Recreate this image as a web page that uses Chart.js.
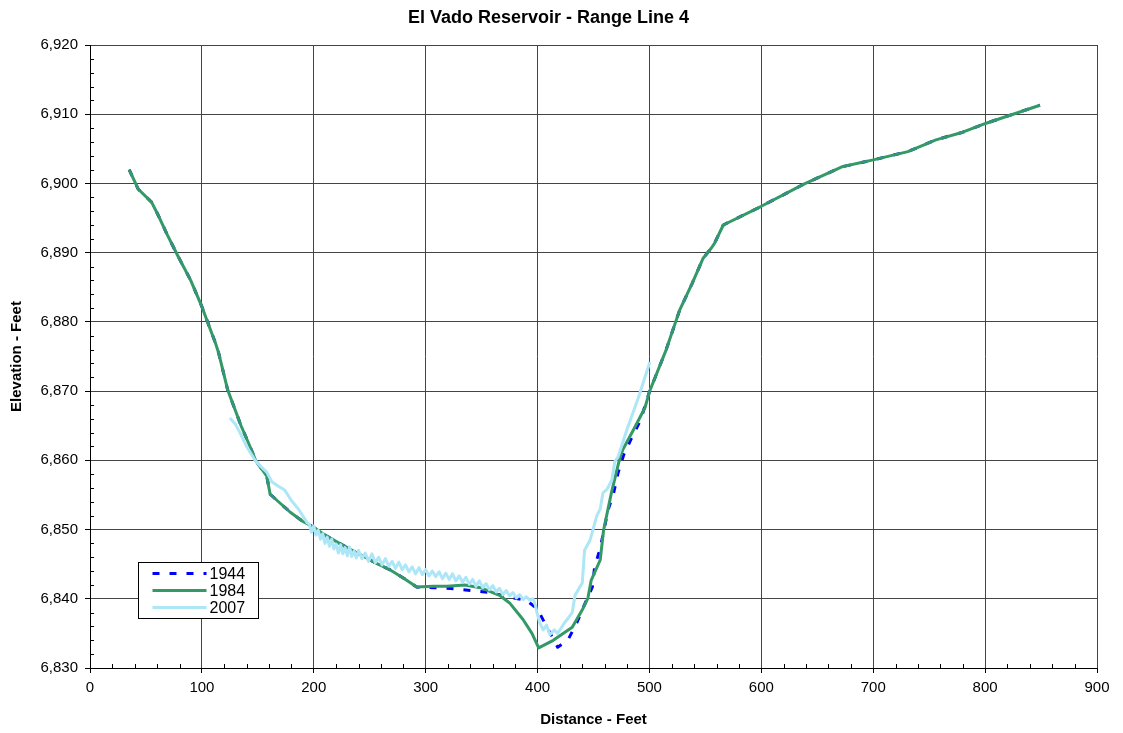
<!DOCTYPE html>
<html>
<head>
<meta charset="utf-8">
<title>El Vado Reservoir - Range Line 4</title>
<script src="https://cdn.jsdelivr.net/npm/chart.js@4.4.1/dist/chart.umd.min.js"></script>
<style>
  html, body { margin: 0; padding: 0; background: #fff; }
</style>
</head>
<body>
<canvas id="chart" width="1123" height="733"></canvas>
<script>
// --- data (distance ft, elevation ft) ---
const dist1944 = [35, 43, 55, 61, 69, 78, 90, 100, 112, 115, 123, 135, 143, 148, 158, 161, 170, 179, 190, 199,
  210, 223, 240, 255, 268, 280, 292, 307, 322, 340, 357, 366, 375, 390, 400, 408, 418, 427, 435, 441,
  449, 451, 456, 463, 468, 472, 477, 484, 492, 500, 515, 527, 538, 548, 555, 558, 566, 600, 638, 672,
  700, 731, 756, 780, 801, 825, 849];
const elev1944 = [6902, 6899.2, 6897.3, 6895.4, 6892.6, 6889.7, 6886, 6882.2, 6877, 6875.5, 6870.2, 6865, 6862, 6860, 6857.7, 6855.1, 6853.8, 6852.5, 6851.2, 6850.4,
  6849.2, 6848, 6846.5, 6845.2, 6844.2, 6843, 6841.7, 6841.6, 6841.5, 6841.2, 6840.9, 6840.6, 6840.2, 6839.8, 6838.5, 6836, 6833, 6834, 6836.5, 6838.8,
  6841.7, 6844.6, 6847.3, 6852.8, 6855.3, 6858.2, 6860.8, 6863.2, 6865.8, 6869.9, 6876, 6881.7, 6885.5, 6889.2, 6890.6, 6891.3, 6894, 6896.7, 6899.9, 6902.4,
  6903.4, 6904.6, 6906.3, 6907.4, 6908.7, 6910, 6911.3];

const dist1984 = [35, 43, 55, 61, 69, 78, 90, 100, 112, 115, 123, 135, 143, 148, 158, 161, 170, 179, 190, 199,
  210, 223, 240, 255, 268, 280, 292, 307, 319, 335, 349, 366, 375, 387, 395, 401, 414, 431, 440, 445,
  448, 456, 459, 466, 473, 476, 486, 496, 500, 515, 527, 538, 548, 555, 558, 566, 600, 638, 672, 700,
  731, 756, 780, 801, 825, 849];
const elev1984 = [6902, 6899.2, 6897.3, 6895.4, 6892.6, 6889.7, 6886, 6882.2, 6877, 6875.5, 6870.2, 6865, 6862, 6860, 6857.7, 6855.1, 6853.8, 6852.5, 6851.2, 6850.4,
  6849.2, 6848, 6846.5, 6845.2, 6844.2, 6843, 6841.7, 6841.8, 6841.8, 6842, 6841.6, 6840.5, 6839.4, 6837, 6835, 6832.9, 6834, 6835.9, 6838.4, 6840.1,
  6842.7, 6845.6, 6849.9, 6855.3, 6860, 6861.5, 6864.5, 6867.6, 6869.9, 6876, 6881.7, 6885.5, 6889.2, 6890.6, 6891.3, 6894, 6896.7, 6899.9, 6902.4, 6903.4,
  6904.6, 6906.3, 6907.4, 6908.7, 6910, 6911.3];

const dist2007 = [125, 130, 134, 140, 147.5, 152, 158, 162.5, 168, 174, 180, 187, 194,
  196, 198, 200, 202, 204, 206, 208, 210, 212, 214, 216, 218, 220, 222, 224, 226, 228, 230, 232, 234, 236, 238,
  240, 243, 246, 249, 252, 255, 258, 261, 264, 267, 270, 273, 276, 279, 282, 285, 288, 291, 294, 297,
  300, 303, 306, 309, 312, 315, 318, 321, 324, 327, 330, 333, 336, 339, 342, 345, 348, 351, 354, 357,
  360, 363, 366, 369, 372, 375, 378, 381, 384, 387, 390, 393, 396,
  398, 399.5, 402, 405, 408, 411, 415, 418, 424, 431, 433.5, 437, 440, 442, 447, 453, 456, 458.5, 462,
  466.5, 469, 472, 474, 480, 490, 500.4];
const elev2007 = [6866.1, 6865.2, 6864, 6862, 6860, 6859.2, 6858.3, 6856.9, 6856.3, 6855.7, 6854.2, 6852.8, 6851,
  6850.8, 6849.6, 6850.5, 6849.2, 6849.9, 6848.6, 6849.4, 6848.0, 6848.9, 6847.6, 6848.6, 6847.2, 6847.9, 6846.6, 6847.8, 6846.5, 6847.4, 6846.2, 6847.5, 6846.1, 6846.9, 6845.9,
  6847.0, 6845.8, 6846.6, 6845.4, 6846.5, 6845.2, 6846.0, 6844.9, 6845.8, 6844.7, 6845.4, 6844.4, 6845.3, 6844.2, 6844.9, 6843.9, 6844.6, 6843.6, 6844.5, 6843.5,
  6844.2, 6843.3, 6844.0, 6843.2, 6843.9, 6842.9, 6843.7, 6842.8, 6843.6, 6842.6, 6843.3, 6842.4, 6843.1, 6842.1, 6842.8, 6841.8, 6842.6, 6841.6, 6842.2, 6841.3,
  6841.9, 6841.0, 6841.5, 6840.6, 6841.2, 6840.4, 6840.9, 6840.1, 6840.6, 6839.9, 6840.3, 6839.8, 6840.0,
  6839.1, 6838, 6836.5, 6835.5, 6836.2, 6834.8, 6835.5, 6835, 6836.5, 6838, 6840.5, 6841.5, 6842.3, 6847, 6848.5, 6852, 6853, 6855.3, 6855.8,
  6857.2, 6859.8, 6860.5, 6861.5, 6864.5, 6869, 6874.2];

const seriesNames = ['1944', '1984', '2007'];
const xTicks = { min: 0, max: 900, step: 100, minor: 20 };
const yTicks = { min: 6830, max: 6920, step: 10, minor: 2 };

const FONT = "Arial, 'Liberation Sans', sans-serif";

function pts(xs, ys) {
  return xs.map((x, i) => ({ x: x, y: ys[i] }));
}

// minor tick marks + legend box inside the plot, like the Excel original
const extras = {
  id: 'extras',
  afterDraw(chart) {
    const ctx = chart.ctx;
    const xs = chart.scales.x, ys = chart.scales.y;
    const area = chart.chartArea;
    ctx.save();
    ctx.strokeStyle = '#000';
    ctx.lineWidth = 1;
    ctx.beginPath();
    for (let v = yTicks.min; v <= yTicks.max; v += yTicks.minor) {
      if (v % yTicks.step === 0) continue;
      const p = Math.round(ys.getPixelForValue(v)) + 0.5;
      ctx.moveTo(area.left, p);
      ctx.lineTo(area.left + 4, p);
    }
    for (let v = xTicks.min; v <= xTicks.max; v += xTicks.minor) {
      if (v % xTicks.step === 0) continue;
      const p = Math.round(xs.getPixelForValue(v)) + 0.5;
      ctx.moveTo(p, area.bottom);
      ctx.lineTo(p, area.bottom - 4);
    }
    ctx.stroke();

    // legend
    const bx = 138.5, by = 562.5, bw = 120, bh = 56;
    ctx.fillStyle = '#fff';
    ctx.fillRect(bx, by, bw, bh);
    ctx.strokeRect(bx, by, bw, bh);
    ctx.font = '16px ' + FONT;
    ctx.textBaseline = 'middle';
    chart.data.datasets.forEach((ds, i) => {
      const ry = by + 11 + i * 17;
      ctx.save();
      ctx.strokeStyle = ds.borderColor;
      ctx.lineWidth = ds.borderWidth;
      ctx.setLineDash(ds.borderDash || []);
      ctx.beginPath();
      ctx.moveTo(bx + 14, ry);
      ctx.lineTo(bx + 68, ry);
      ctx.stroke();
      ctx.restore();
      ctx.fillStyle = '#000';
      ctx.fillText(ds.label, bx + 71, ry + 1);
    });
    ctx.restore();
  }
};

new Chart(document.getElementById('chart'), {
  type: 'line',
  data: {
    datasets: [
      {
        label: seriesNames[0],
        data: pts(dist1944, elev1944),
        borderColor: '#0000ff',
        borderWidth: 3,
        borderDash: [7, 10],
        order: 2
      },
      {
        label: seriesNames[1],
        data: pts(dist1984, elev1984),
        borderColor: '#339966',
        borderWidth: 3,
        order: 1
      },
      {
        label: seriesNames[2],
        data: pts(dist2007, elev2007),
        borderColor: '#ade6f7',
        borderWidth: 3,
        order: 0
      }
    ]
  },
  options: {
    responsive: false,
    animation: false,
    devicePixelRatio: 1,
    elements: {
      point: { radius: 0 },
      line: { tension: 0, fill: false, borderJoinStyle: 'round' }
    },
    layout: { padding: { top: 0, right: 26, bottom: 0, left: 0 } },
    plugins: {
      legend: { display: false },
      tooltip: { enabled: false },
      title: {
        display: true,
        text: 'El Vado Reservoir - Range Line 4',
        color: '#000',
        font: { family: FONT, size: 18, weight: 'bold' },
        padding: { top: 7, bottom: 16.4 }
      }
    },
    scales: {
      x: {
        type: 'linear',
        min: xTicks.min,
        max: xTicks.max,
        afterFit(scale) { scale.height = 65; },
        ticks: {
          stepSize: xTicks.step,
          color: '#000',
          padding: 6,
          maxRotation: 0,
          font: { family: FONT, size: 15 }
        },
        grid: { color: '#444', tickColor: '#000', tickLength: 5 },
        border: { color: '#000' },
        title: {
          display: true,
          text: 'Distance - Feet',
          color: '#000',
          font: { family: FONT, size: 15, weight: 'bold' },
          padding: { top: 7 }
        }
      },
      y: {
        type: 'linear',
        min: yTicks.min,
        max: yTicks.max,
        afterFit(scale) { scale.width = 90; },
        ticks: {
          stepSize: yTicks.step,
          color: '#000',
          padding: 7,
          font: { family: FONT, size: 15 },
          callback: v => v.toLocaleString('en-US')
        },
        grid: { color: '#444', tickColor: '#000', tickLength: 5 },
        border: { color: '#000' },
        title: {
          display: true,
          text: 'Elevation - Feet',
          color: '#000',
          font: { family: FONT, size: 15, weight: 'bold' },
          padding: { top: 8 }
        }
      }
    }
  },
  plugins: [extras]
});
</script>
</body>
</html>
